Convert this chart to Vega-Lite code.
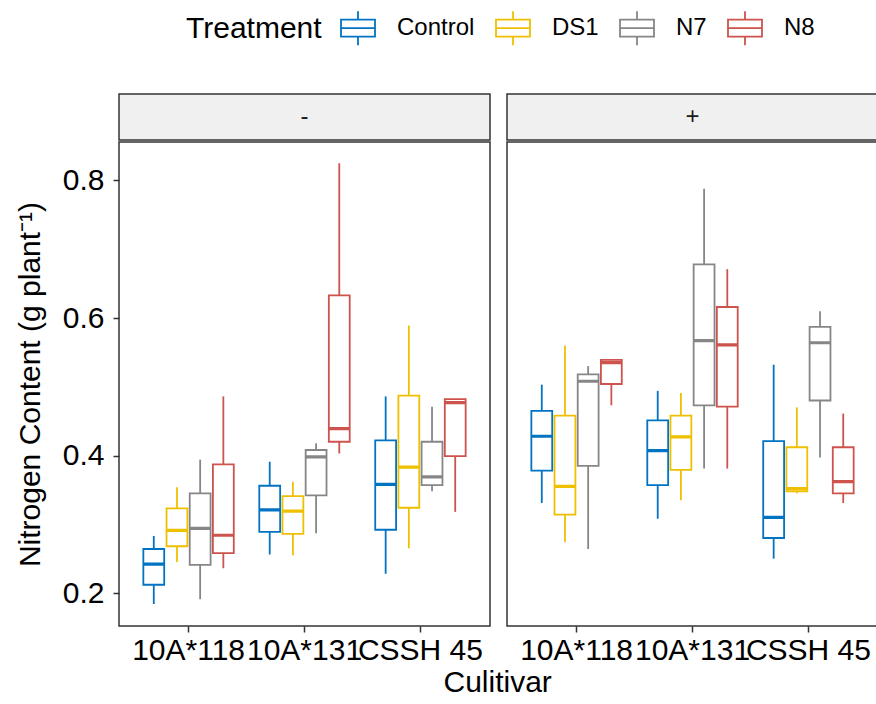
{
  "$schema": "https://vega.github.io/schema/vega-lite/v6.json",
  "padding": {"left": 14, "top": 10, "right": 0, "bottom": 5},
  "background": "white",
  "title": {"text": "Culitivar", "orient": "bottom", "anchor": "middle", "frame": "bounds", "font": "Liberation Sans", "fontSize": 30, "fontWeight": "normal", "color": "#000000", "offset": 2, "dx": 51},
  "datasets": {
    "box": [
      {"N": "-", "Cultivar": "10A*118", "Treatment": "Control", "lo": 0.184, "q1": 0.212, "med": 0.242, "q3": 0.264, "hi": 0.283},
      {"N": "-", "Cultivar": "10A*118", "Treatment": "DS1", "lo": 0.245, "q1": 0.268, "med": 0.291, "q3": 0.323, "hi": 0.354},
      {"N": "-", "Cultivar": "10A*118", "Treatment": "N7", "lo": 0.191, "q1": 0.241, "med": 0.294, "q3": 0.345, "hi": 0.394},
      {"N": "-", "Cultivar": "10A*118", "Treatment": "N8", "lo": 0.236, "q1": 0.258, "med": 0.284, "q3": 0.387, "hi": 0.486},
      {"N": "-", "Cultivar": "10A*131", "Treatment": "Control", "lo": 0.256, "q1": 0.289, "med": 0.321, "q3": 0.356, "hi": 0.391},
      {"N": "-", "Cultivar": "10A*131", "Treatment": "DS1", "lo": 0.255, "q1": 0.286, "med": 0.319, "q3": 0.341, "hi": 0.362},
      {"N": "-", "Cultivar": "10A*131", "Treatment": "N7", "lo": 0.287, "q1": 0.342, "med": 0.398, "q3": 0.408, "hi": 0.418},
      {"N": "-", "Cultivar": "10A*131", "Treatment": "N8", "lo": 0.403, "q1": 0.42, "med": 0.439, "q3": 0.633, "hi": 0.825},
      {"N": "-", "Cultivar": "CSSH 45", "Treatment": "Control", "lo": 0.228, "q1": 0.292, "med": 0.358, "q3": 0.422, "hi": 0.486},
      {"N": "-", "Cultivar": "CSSH 45", "Treatment": "DS1", "lo": 0.265, "q1": 0.324, "med": 0.383, "q3": 0.487, "hi": 0.589},
      {"N": "-", "Cultivar": "CSSH 45", "Treatment": "N7", "lo": 0.348, "q1": 0.357, "med": 0.369, "q3": 0.42, "hi": 0.471},
      {"N": "-", "Cultivar": "CSSH 45", "Treatment": "N8", "lo": 0.318, "q1": 0.399, "med": 0.477, "q3": 0.482, "hi": 0.482},
      {"N": "+", "Cultivar": "10A*118", "Treatment": "Control", "lo": 0.331, "q1": 0.378, "med": 0.428, "q3": 0.465, "hi": 0.503},
      {"N": "+", "Cultivar": "10A*118", "Treatment": "DS1", "lo": 0.274, "q1": 0.314, "med": 0.355, "q3": 0.458, "hi": 0.56},
      {"N": "+", "Cultivar": "10A*118", "Treatment": "N7", "lo": 0.264, "q1": 0.385, "med": 0.508, "q3": 0.518, "hi": 0.53},
      {"N": "+", "Cultivar": "10A*118", "Treatment": "N8", "lo": 0.473, "q1": 0.504, "med": 0.535, "q3": 0.539, "hi": 0.539},
      {"N": "+", "Cultivar": "10A*131", "Treatment": "Control", "lo": 0.308, "q1": 0.357, "med": 0.407, "q3": 0.451, "hi": 0.494},
      {"N": "+", "Cultivar": "10A*131", "Treatment": "DS1", "lo": 0.335, "q1": 0.379, "med": 0.427, "q3": 0.458, "hi": 0.491},
      {"N": "+", "Cultivar": "10A*131", "Treatment": "N7", "lo": 0.381, "q1": 0.473, "med": 0.567, "q3": 0.678, "hi": 0.788},
      {"N": "+", "Cultivar": "10A*131", "Treatment": "N8", "lo": 0.381, "q1": 0.471, "med": 0.561, "q3": 0.616, "hi": 0.671},
      {"N": "+", "Cultivar": "CSSH 45", "Treatment": "Control", "lo": 0.25, "q1": 0.28, "med": 0.31, "q3": 0.421, "hi": 0.532},
      {"N": "+", "Cultivar": "CSSH 45", "Treatment": "DS1", "lo": 0.345, "q1": 0.348, "med": 0.352, "q3": 0.412, "hi": 0.47},
      {"N": "+", "Cultivar": "CSSH 45", "Treatment": "N7", "lo": 0.397, "q1": 0.48, "med": 0.564, "q3": 0.587, "hi": 0.61},
      {"N": "+", "Cultivar": "CSSH 45", "Treatment": "N8", "lo": 0.331, "q1": 0.345, "med": 0.362, "q3": 0.412, "hi": 0.461}
    ]
  },
  "config": {
    "font": "Liberation Sans",
    "view": {"stroke": null},
    "axis": {
      "labelFont": "Liberation Sans", "titleFont": "Liberation Sans",
      "labelFontSize": 30, "titleFontSize": 30,
      "labelColor": "#000000", "titleColor": "#000000",
      "titleFontWeight": "normal", "tickColor": "#333333",
      "domain": false, "grid": false, "tickSize": 6, "tickWidth": 1.5
    },
    "legend": {
      "direction": "horizontal", "titleOrient": "left",
      "titleFont": "Liberation Sans", "titleFontSize": 30, "titleFontWeight": "normal", "titleColor": "#000000",
      "labelFont": "Liberation Sans", "labelFontSize": 24, "labelColor": "#000000",
      "symbolType": "M-1,-0.5H1V0.5H-1Z M-1,0H1 M0,-0.5V-1 M0,0.5V1",
      "symbolSize": 1156, "symbolStrokeWidth": 1.8, "symbolFillColor": "transparent",
      "labelOffset": 21, "columnPadding": 17, "titlePadding": 18
    }
  },
  "spacing": 15,
  "resolve": {"scale": {"stroke": "shared"}},
  "hconcat": [
    {
      "spacing": 0,
      "vconcat": [
        {
          "data": {"values": [{"lab": "-"}]},
          "width": 371, "height": 46,
          "view": {"fill": "#F0F0F0", "stroke": "#333333", "strokeWidth": 1.5},
          "mark": {"type": "text", "fontSize": 24, "color": "#1a1a1a", "font": "Liberation Sans"},
          "encoding": {"text": {"field": "lab", "type": "nominal"}}
        },
        {
          "data": {"name": "box"},
          "transform": [{"filter": "datum.N == '-'"}],
          "width": 371, "height": 484,
          "view": {"fill": "white", "stroke": "#333333", "strokeWidth": 1.5},
          "encoding": {
            "x": {"field": "Cultivar", "type": "nominal",
              "scale": {"domain": ["10A*118", "10A*131", "CSSH 45"], "paddingInner": 0.2, "paddingOuter": 0.2},
              "axis": {"title": null, "labelAngle": 0, "labelOverlap": false, "labelBound": false, "labelPadding": 3}},
            "xOffset": {"field": "Treatment", "type": "nominal",
              "scale": {"domain": ["Control", "DS1", "N7", "N8"], "paddingInner": 0.1, "paddingOuter": 0.05}},
            "stroke": {"field": "Treatment", "type": "nominal",
              "scale": {"domain": ["Control", "DS1", "N7", "N8"], "range": ["#0073C2", "#EFC000", "#868686", "#CD534C"]},
              "legend": {"title": "Treatment", "orient": "none", "legendX": 67, "legendY": -84}}
          },
          "layer": [
            {
              "mark": {"type": "rule", "strokeWidth": 1.8},
              "encoding": {
                "y": {"field": "lo", "type": "quantitative",
                  "scale": {"domain": [0.152, 0.856], "nice": false, "zero": false},
                  "axis": {"title": "Nitrogen Content (g plant⁻¹)", "values": [0.2, 0.4, 0.6, 0.8], "format": ".1f", "labelPadding": 9, "titlePadding": 17}},
                "y2": {"field": "hi"}
              }
            },
            {
              "mark": {"type": "bar", "fill": "white", "strokeWidth": 1.8},
              "encoding": {
                "y": {"field": "q1", "type": "quantitative", "title": "Nitrogen Content (g plant⁻¹)"},
                "y2": {"field": "q3"}
              }
            },
            {
              "mark": {"type": "bar", "fill": "white", "strokeWidth": 3.2},
              "encoding": {
                "y": {"field": "med", "type": "quantitative", "title": "Nitrogen Content (g plant⁻¹)"},
                "y2": {"field": "med"}
              }
            }
          ]
        }
      ]
    },
    {
      "spacing": 0,
      "vconcat": [
        {
          "data": {"values": [{"lab": "+"}]},
          "width": 371, "height": 46,
          "view": {"fill": "#F0F0F0", "stroke": "#333333", "strokeWidth": 1.5},
          "mark": {"type": "text", "fontSize": 24, "color": "#1a1a1a", "font": "Liberation Sans"},
          "encoding": {"text": {"field": "lab", "type": "nominal"}}
        },
        {
          "data": {"name": "box"},
          "transform": [{"filter": "datum.N == '+'"}],
          "width": 371, "height": 484,
          "view": {"fill": "white", "stroke": "#333333", "strokeWidth": 1.5},
          "encoding": {
            "x": {"field": "Cultivar", "type": "nominal",
              "scale": {"domain": ["10A*118", "10A*131", "CSSH 45"], "paddingInner": 0.2, "paddingOuter": 0.2},
              "axis": {"title": null, "labelAngle": 0, "labelOverlap": false, "labelBound": false, "labelPadding": 3}},
            "xOffset": {"field": "Treatment", "type": "nominal",
              "scale": {"domain": ["Control", "DS1", "N7", "N8"], "paddingInner": 0.1, "paddingOuter": 0.05}},
            "stroke": {"field": "Treatment", "type": "nominal",
              "scale": {"domain": ["Control", "DS1", "N7", "N8"], "range": ["#0073C2", "#EFC000", "#868686", "#CD534C"]},
              "legend": null}
          },
          "layer": [
            {
              "mark": {"type": "rule", "strokeWidth": 1.8},
              "encoding": {
                "y": {"field": "lo", "type": "quantitative",
                  "scale": {"domain": [0.152, 0.856], "nice": false, "zero": false},
                  "axis": null},
                "y2": {"field": "hi"}
              }
            },
            {
              "mark": {"type": "bar", "fill": "white", "strokeWidth": 1.8},
              "encoding": {
                "y": {"field": "q1", "type": "quantitative", "axis": null},
                "y2": {"field": "q3"}
              }
            },
            {
              "mark": {"type": "bar", "fill": "white", "strokeWidth": 3.2},
              "encoding": {
                "y": {"field": "med", "type": "quantitative", "axis": null},
                "y2": {"field": "med"}
              }
            }
          ]
        }
      ]
    }
  ]
}
